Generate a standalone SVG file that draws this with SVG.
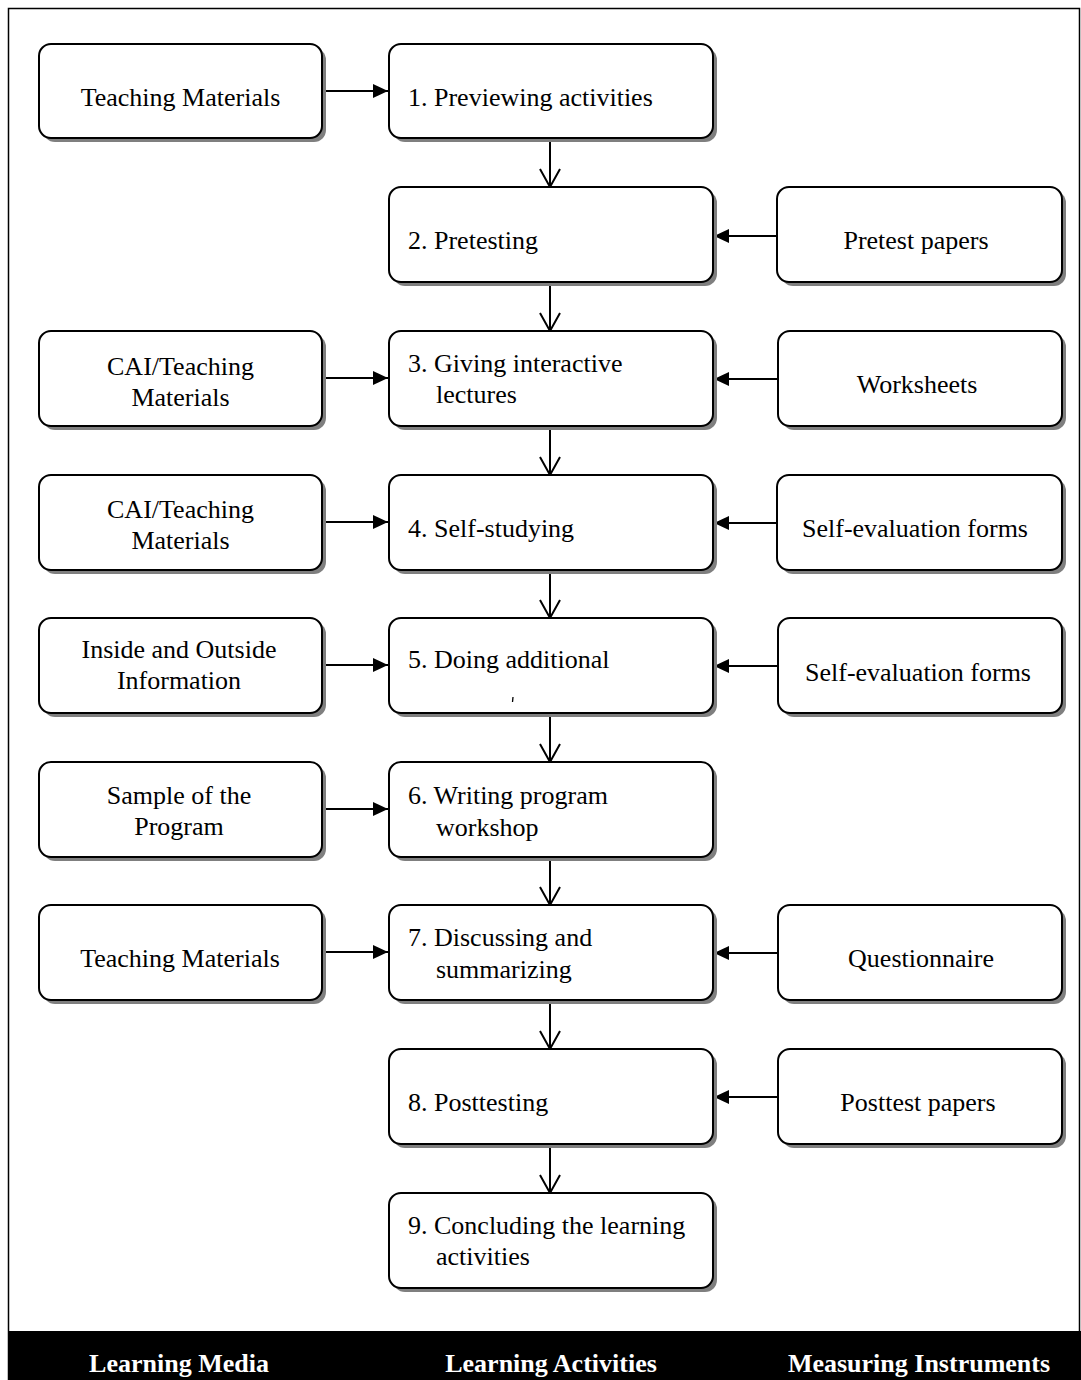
<svg xmlns="http://www.w3.org/2000/svg" width="1081" height="1380" viewBox="0 0 1081 1380">
<style>
.box{fill:#fff;stroke:#000;stroke-width:2}
.sh{fill:#7f7f7f}
.t{font-family:"Liberation Serif","Times New Roman",serif;font-size:26px;fill:#000}
.c{text-anchor:middle}
.ln{stroke:#000;stroke-width:2;fill:none}
.ft{font-family:"Liberation Serif","Times New Roman",serif;font-size:26px;font-weight:bold;fill:#fff;text-anchor:middle}
</style>
<defs>
<marker id="fa" markerWidth="16" markerHeight="16" refX="15" refY="8" orient="auto" markerUnits="userSpaceOnUse">
<path d="M0,1 L15,8 L0,15 Z" fill="#000"/>
</marker>
<marker id="oa" markerWidth="24" markerHeight="22" refX="20" refY="11" orient="auto" markerUnits="userSpaceOnUse">
<path d="M2,1 L20,11 L2,21" fill="none" stroke="#000" stroke-width="2"/>
</marker>
</defs>
<rect x="0" y="0" width="1081" height="1380" fill="#fff"/>
<path d="M8.5,1380 V8.5 H1079.5 V1331" fill="none" stroke="#000" stroke-width="1.5"/>
<rect x="8" y="1331" width="1073" height="49" fill="#000"/>

<g id="connectors">
<line class="ln" x1="322" y1="91" x2="388" y2="91" marker-end="url(#fa)"/>
<line class="ln" x1="322" y1="378" x2="388" y2="378" marker-end="url(#fa)"/>
<line class="ln" x1="322" y1="522" x2="388" y2="522" marker-end="url(#fa)"/>
<line class="ln" x1="322" y1="665" x2="388" y2="665" marker-end="url(#fa)"/>
<line class="ln" x1="322" y1="809" x2="388" y2="809" marker-end="url(#fa)"/>
<line class="ln" x1="322" y1="952" x2="388" y2="952" marker-end="url(#fa)"/>
<line class="ln" x1="777" y1="236" x2="714" y2="236" marker-end="url(#fa)"/>
<line class="ln" x1="777" y1="379" x2="714" y2="379" marker-end="url(#fa)"/>
<line class="ln" x1="777" y1="523" x2="714" y2="523" marker-end="url(#fa)"/>
<line class="ln" x1="777" y1="666" x2="714" y2="666" marker-end="url(#fa)"/>
<line class="ln" x1="777" y1="953" x2="714" y2="953" marker-end="url(#fa)"/>
<line class="ln" x1="777" y1="1097" x2="714" y2="1097" marker-end="url(#fa)"/>
<line class="ln" x1="550" y1="138" x2="550" y2="187" marker-end="url(#oa)"/>
<line class="ln" x1="550" y1="282" x2="550" y2="331" marker-end="url(#oa)"/>
<line class="ln" x1="550" y1="426" x2="550" y2="475" marker-end="url(#oa)"/>
<line class="ln" x1="550" y1="570" x2="550" y2="618" marker-end="url(#oa)"/>
<line class="ln" x1="550" y1="713" x2="550" y2="762" marker-end="url(#oa)"/>
<line class="ln" x1="550" y1="857" x2="550" y2="905" marker-end="url(#oa)"/>
<line class="ln" x1="550" y1="1000" x2="550" y2="1049" marker-end="url(#oa)"/>
<line class="ln" x1="550" y1="1144" x2="550" y2="1193" marker-end="url(#oa)"/>
</g>

<!-- Left column: Learning Media -->
<g id="m1"><rect class="sh" x="43" y="48" width="283" height="94" rx="12"/><rect class="box" x="39" y="44" width="283" height="94" rx="12"/><text class="t c" x="180.5" y="106">Teaching Materials</text></g>
<g id="m3"><rect class="sh" x="43" y="335" width="283" height="95" rx="12"/><rect class="box" x="39" y="331" width="283" height="95" rx="12"/><text class="t c" x="180.5" y="375">CAI/Teaching</text><text class="t c" x="180.5" y="406">Materials</text></g>
<g id="m4"><rect class="sh" x="43" y="479" width="283" height="95" rx="12"/><rect class="box" x="39" y="475" width="283" height="95" rx="12"/><text class="t c" x="180.5" y="518">CAI/Teaching</text><text class="t c" x="180.5" y="549">Materials</text></g>
<g id="m5"><rect class="sh" x="43" y="622" width="283" height="95" rx="12"/><rect class="box" x="39" y="618" width="283" height="95" rx="12"/><text class="t c" x="179" y="658">Inside and Outside</text><text class="t c" x="179" y="689">Information</text></g>
<g id="m6"><rect class="sh" x="43" y="766" width="283" height="95" rx="12"/><rect class="box" x="39" y="762" width="283" height="95" rx="12"/><text class="t c" x="179" y="804">Sample of the</text><text class="t c" x="179" y="835">Program</text></g>
<g id="m7"><rect class="sh" x="43" y="909" width="283" height="95" rx="12"/><rect class="box" x="39" y="905" width="283" height="95" rx="12"/><text class="t c" x="180" y="967">Teaching Materials</text></g>

<!-- Middle column: Learning Activities -->
<g id="a1"><rect class="sh" x="393" y="48" width="324" height="94" rx="12"/><rect class="box" x="389" y="44" width="324" height="94" rx="12"/><text class="t" x="408" y="106">1. Previewing activities</text></g>
<g id="a2"><rect class="sh" x="393" y="191" width="324" height="95" rx="12"/><rect class="box" x="389" y="187" width="324" height="95" rx="12"/><text class="t" x="408" y="249">2. Pretesting</text></g>
<g id="a3"><rect class="sh" x="393" y="335" width="324" height="95" rx="12"/><rect class="box" x="389" y="331" width="324" height="95" rx="12"/><text class="t" x="408" y="372">3. Giving interactive</text><text class="t" x="436" y="403">lectures</text></g>
<g id="a4"><rect class="sh" x="393" y="479" width="324" height="95" rx="12"/><rect class="box" x="389" y="475" width="324" height="95" rx="12"/><text class="t" x="408" y="537">4. Self-studying</text></g>
<g id="a5"><rect class="sh" x="393" y="622" width="324" height="95" rx="12"/><rect class="box" x="389" y="618" width="324" height="95" rx="12"/><text class="t" x="408" y="668">5. Doing additional</text><line x1="513" y1="697" x2="512.5" y2="702" stroke="#000" stroke-width="1.3"/></g>
<g id="a6"><rect class="sh" x="393" y="766" width="324" height="95" rx="12"/><rect class="box" x="389" y="762" width="324" height="95" rx="12"/><text class="t" x="408" y="804">6. Writing program</text><text class="t" x="436" y="836">workshop</text></g>
<g id="a7"><rect class="sh" x="393" y="909" width="324" height="95" rx="12"/><rect class="box" x="389" y="905" width="324" height="95" rx="12"/><text class="t" x="408" y="946">7. Discussing and</text><text class="t" x="436" y="978">summarizing</text></g>
<g id="a8"><rect class="sh" x="393" y="1053" width="324" height="95" rx="12"/><rect class="box" x="389" y="1049" width="324" height="95" rx="12"/><text class="t" x="408" y="1111">8. Posttesting</text></g>
<g id="a9"><rect class="sh" x="393" y="1197" width="324" height="95" rx="12"/><rect class="box" x="389" y="1193" width="324" height="95" rx="12"/><text class="t" x="408" y="1234">9. Concluding the learning</text><text class="t" x="436" y="1265">activities</text></g>

<!-- Right column: Measuring Instruments -->
<g id="i2"><rect class="sh" x="781" y="191" width="285" height="95" rx="12"/><rect class="box" x="777" y="187" width="285" height="95" rx="12"/><text class="t c" x="916" y="249">Pretest papers</text></g>
<g id="i3"><rect class="sh" x="782" y="335" width="284" height="95" rx="12"/><rect class="box" x="778" y="331" width="284" height="95" rx="12"/><text class="t c" x="917" y="393">Worksheets</text></g>
<g id="i4"><rect class="sh" x="781" y="479" width="285" height="95" rx="12"/><rect class="box" x="777" y="475" width="285" height="95" rx="12"/><text class="t c" x="915" y="537">Self-evaluation forms</text></g>
<g id="i5"><rect class="sh" x="782" y="622" width="284" height="95" rx="12"/><rect class="box" x="778" y="618" width="284" height="95" rx="12"/><text class="t c" x="918" y="681">Self-evaluation forms</text></g>
<g id="i7"><rect class="sh" x="782" y="909" width="284" height="95" rx="12"/><rect class="box" x="778" y="905" width="284" height="95" rx="12"/><text class="t c" x="921" y="967">Questionnaire</text></g>
<g id="i8"><rect class="sh" x="782" y="1053" width="284" height="95" rx="12"/><rect class="box" x="778" y="1049" width="284" height="95" rx="12"/><text class="t c" x="918" y="1111">Posttest papers</text></g>

<g id="footer">
<text class="ft" x="179" y="1372">Learning Media</text>
<text class="ft" x="551" y="1372">Learning Activities</text>
<text class="ft" x="919" y="1372">Measuring Instruments</text>
</g>
</svg>
